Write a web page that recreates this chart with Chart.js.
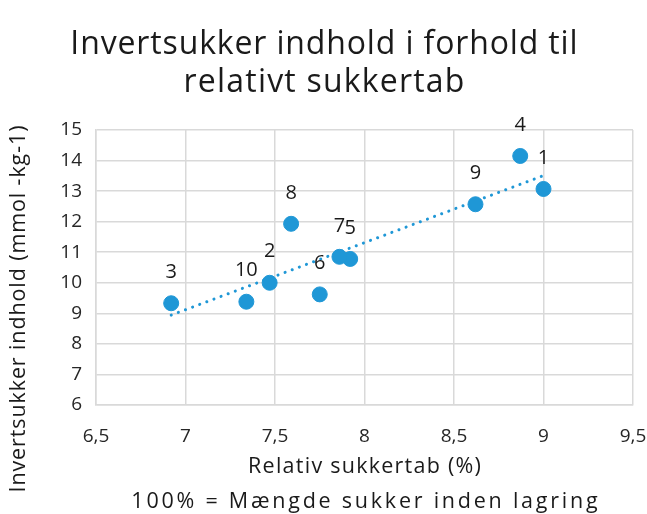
<!DOCTYPE html>
<html>
<head>
<meta charset="utf-8">
<script src="https://cdn.jsdelivr.net/npm/chart.js@4/dist/chart.umd.min.js"></script>
<style>
  html, body { margin: 0; padding: 0; background: #ffffff; }
  #wrap { width: 647px; height: 514px; }
</style>
</head>
<body>
<div id="wrap"><canvas id="c" width="647" height="514"></canvas></div>
<script>
// ---- Data ----
const pointLabels = ['1', '2', '3', '4', '5', '6', '7', '8', '9', '10'];
const relativeSugarLoss = [9.00, 7.47, 6.92, 8.87, 7.92, 7.75, 7.86, 7.59, 8.62, 7.34];
const invertSugar = [13.07, 10.00, 9.33, 14.15, 10.78, 9.62, 10.85, 11.93, 12.57, 9.38];
const xTickLabels = ['6,5', '7', '7,5', '8', '8,5', '9', '9,5'];
const yTickLabels = ['6', '7', '8', '9', '10', '11', '12', '13', '14', '15'];
const titleLines = ['Invertsukker indhold i forhold til', 'relativt sukkertab'];
const xTitleLines = ['Relativ sukkertab (%)', '100% = Mængde sukker inden lagring'];
const yTitle = 'Invertsukker indhold (mmol -kg-1)';

// Linear trendline (least squares, as Excel does)
function linearTrend(xs, ys) {
  const n = xs.length;
  const mx = xs.reduce((a, b) => a + b, 0) / n;
  const my = ys.reduce((a, b) => a + b, 0) / n;
  let sxy = 0, sxx = 0;
  for (let i = 0; i < n; i++) { sxy += (xs[i] - mx) * (ys[i] - my); sxx += (xs[i] - mx) ** 2; }
  const b = sxy / sxx, a = my - b * mx;
  const x0 = Math.min(...xs), x1 = Math.max(...xs);
  return [{ x: x0, y: a + b * x0 }, { x: x1, y: a + b * x1 }];
}

const points = relativeSugarLoss.map((x, i) => ({ x: x, y: invertSugar[i] }));
const trend = linearTrend(relativeSugarLoss, invertSugar);

const BLUE = '#1f97d6';
const TEXT = '#1a1a1a';
const TICK = '#262626';
const GRID = '#d9d9d9';
const FONT = '"Open Sans", "Noto Sans", sans-serif';

function drawFitted(ctx, text, x, y, size, targetW) {
  ctx.font = size + 'px ' + FONT;
  ctx.letterSpacing = '0px';
  const w = ctx.measureText(text).width;
  const ls = (targetW - w) / text.length;
  ctx.letterSpacing = ls.toFixed(2) + 'px';
  ctx.fillText(text, x + ls / 2, y);
  ctx.letterSpacing = '0px';
}

const textPlugin = {
  id: 'texts',
  afterDatasetsDraw(chart) {
    const ctx = chart.ctx;
    ctx.save();
    ctx.fillStyle = TEXT;
    ctx.textAlign = 'center';
    ctx.textBaseline = 'middle';
    const meta = chart.getDatasetMeta(1);
    ctx.font = '20px ' + FONT;
    meta.data.forEach((el, i) => {
      ctx.fillText(pointLabels[i], el.x, el.y - 31);
    });
    ctx.restore();
  },
  afterDraw(chart) {
    const ctx = chart.ctx;
    const ca = chart.chartArea;
    const cx = (ca.left + ca.right) / 2;
    ctx.save();
    ctx.fillStyle = TEXT;
    ctx.textAlign = 'center';
    ctx.textBaseline = 'middle';
    drawFitted(ctx, titleLines[0], 324, 45, 32, 508);
    drawFitted(ctx, titleLines[1], 324, 83, 32, 282);
    drawFitted(ctx, xTitleLines[0], cx, 467, 21.5, 234);
    drawFitted(ctx, xTitleLines[1], cx, 502, 21.5, 469);
    ctx.translate(19, 309);
    ctx.rotate(-Math.PI / 2);
    drawFitted(ctx, yTitle, 0, 0, 21.5, 368);
    ctx.restore();
  }
};

new Chart(document.getElementById('c'), {
  type: 'scatter',
  data: {
    datasets: [
      {
        label: 'Trend',
        type: 'line',
        data: trend,
        borderColor: BLUE,
        borderWidth: 3,
        borderDash: [0.1, 7.5],
        borderCapStyle: 'round',
        pointRadius: 0,
        fill: false,
        order: 1
      },
      {
        label: 'Invertsukker',
        data: points,
        backgroundColor: BLUE,
        borderColor: BLUE,
        pointRadius: 7.5,
        pointHoverRadius: 7.5,
        order: 0
      }
    ]
  },
  options: {
    responsive: false,
    animation: false,
    devicePixelRatio: 1,
    layout: { padding: { top: 130, right: 0, left: 0, bottom: 0 } },
    plugins: { legend: { display: false }, tooltip: { enabled: false }, title: { display: false } },
    scales: {
      x: {
        type: 'linear',
        min: 6.5, max: 9.5,
        afterFit(scale) { scale.height = 109; scale.paddingRight = 14; },
        ticks: {
          stepSize: 0.5,
          color: TICK,
          font: { size: 19, family: FONT },
          padding: 20,
          maxRotation: 0,
          callback: (v, i) => xTickLabels[i]
        },
        grid: { color: GRID, lineWidth: 1.5, drawTicks: false },
        border: { color: GRID, width: 1.5 }
      },
      y: {
        type: 'linear',
        min: 6, max: 15,
        afterFit(scale) { scale.width = 96; },
        ticks: {
          stepSize: 1,
          color: TICK,
          font: { size: 19, family: FONT },
          padding: 14,
          callback: (v, i) => yTickLabels[i]
        },
        grid: { color: GRID, lineWidth: 1.5, drawTicks: false },
        border: { color: GRID, width: 1.5 }
      }
    }
  },
  plugins: [textPlugin]
});
</script>
</body>
</html>
